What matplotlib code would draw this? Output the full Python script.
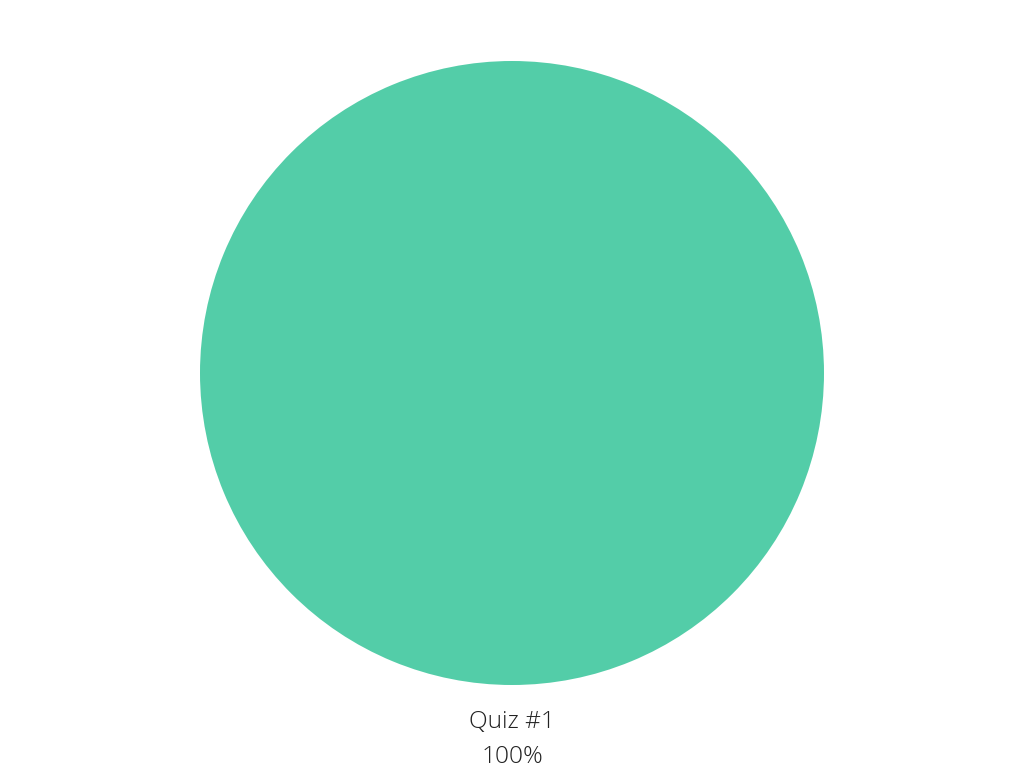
import matplotlib.pyplot as plt

labels = ["Quiz #1"]
values = [1]
colors = ["#53cda8"]

plt.rcParams['font.family'] = ['Open Sans', 'DejaVu Sans']

fig = plt.figure(figsize=(10.24, 7.68), dpi=100)
ax = fig.add_axes([200 / 1024, 83 / 768, 624 / 1024, 624 / 768])

ax.pie(values, colors=colors, startangle=90, counterclock=False,
       wedgeprops=dict(linewidth=0))
ax.set_xlim(-1, 1)
ax.set_ylim(-1, 1)
ax.set_aspect('equal')
ax.axis('off')

total = sum(values)
for lab, v in zip(labels, values):
    pct = 100 * v / total
    ax.text(0, -1.118, lab, ha='center', va='center', fontsize=17.6,
            fontweight='light', color='#222222', clip_on=False)
    ax.text(0, -1.231, f"{pct:.0f}%", ha='center', va='center', fontsize=17.6,
            fontweight='light', color='#222222', clip_on=False)

fig.savefig("out.png", dpi=100, facecolor='white')
